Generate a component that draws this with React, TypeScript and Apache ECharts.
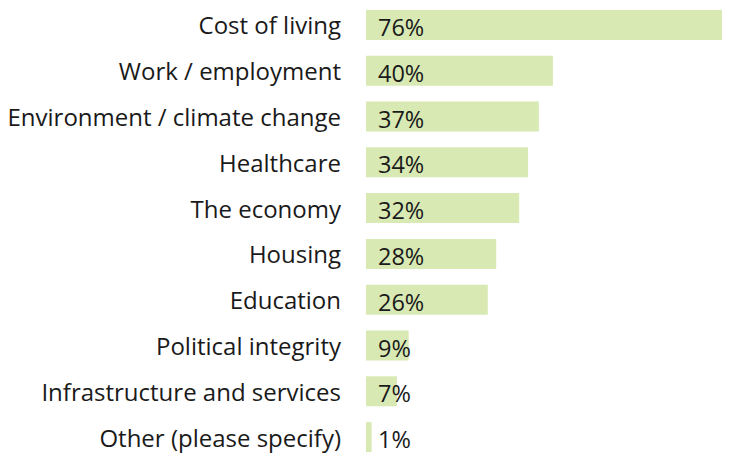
import React, { useEffect, useRef } from "react";
import * as echarts from "echarts";

const categories = [
  "Cost of living",
  "Work / employment",
  "Environment / climate change",
  "Healthcare",
  "The economy",
  "Housing",
  "Education",
  "Political integrity",
  "Infrastructure and services",
  "Other (please specify)",
];
// bar lengths
const values = [76, 39.9, 36.9, 34.6, 32.7, 27.8, 26.0, 9.1, 6.6, 1.2];
// percentages as printed on the bars
const percentLabels = [76, 40, 37, 34, 32, 28, 26, 9, 7, 1];

export default function App() {
  const ref = useRef<HTMLDivElement>(null);
  useEffect(() => {
    if (!ref.current) return;
    const chart = echarts.init(ref.current, null, { renderer: "svg" });
    chart.setOption({
      animation: false,
      grid: { left: 366, right: 7, top: 2, height: 459, containLabel: false },
      xAxis: {
        type: "value",
        min: 0,
        max: 76,
        show: false,
      },
      yAxis: {
        type: "category",
        data: categories,
        inverse: true,
        axisLine: { show: false },
        axisTick: { show: false },
        axisLabel: {
          margin: 25,
          fontFamily: "Open Sans",
          fontSize: 24,
          color: "#1a1a1a",
          offset: [0, -1],
        },
      },
      series: [
        {
          type: "bar",
          data: values,
          barWidth: 30,
          itemStyle: { color: "#d8e9b4" },
          label: {
            show: true,
            position: "insideLeft",
            distance: 12,
            formatter: (p: any) => percentLabels[p.dataIndex] + "%",
            fontFamily: "Open Sans",
            fontSize: 23.5,
            color: "#1a1a1a",
            offset: [0, 2],
          },
        },
      ],
    });
    return () => chart.dispose();
  }, []);
  return (
    <div
      ref={ref}
      style={{ position: "absolute", left: 0, top: 0, width: 729, height: 460, background: "#fff" }}
    />
  );
}
